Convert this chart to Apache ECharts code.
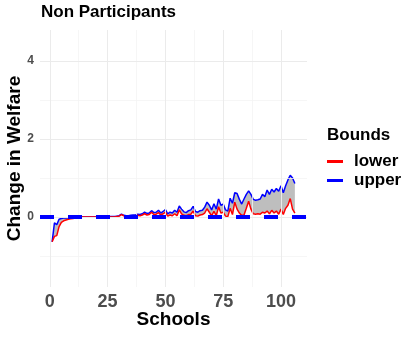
<!DOCTYPE html>
<html>
<head>
<meta charset="utf-8">
<script src="https://cdn.jsdelivr.net/npm/echarts@6/dist/echarts.min.js"></script>
<style>html,body{margin:0;padding:0;background:#fff}#c{width:415px;height:337px}</style>
</head>
<body>
<div id="c"></div>
<script>
const schools = Array.from({length:106}, (_, i) => i + 1);
const upper = [-0.64,-0.15,-0.20,-0.06,-0.04,-0.03,-0.03,-0.02,-0.02,-0.01,
  -0.01,-0.01,0.00,0.00,0.00,0.00,0.00,0.00,0.00,0.00,
  0.00,0.00,0.00,0.01,0.01,0.01,0.01,0.01,0.02,0.03,
  0.07,0.04,0.03,0.03,0.04,0.05,0.05,0.07,0.06,0.08,
  0.12,0.09,0.10,0.16,0.11,0.12,0.17,0.10,0.14,0.19,
  0.08,0.12,0.10,0.17,0.12,0.28,0.20,0.13,0.11,0.16,
  0.18,0.27,0.14,0.12,0.16,0.17,0.25,0.38,0.30,0.18,
  0.34,0.20,0.46,0.30,0.33,0.18,0.15,0.48,0.35,0.62,
  0.60,0.45,0.33,0.46,0.58,0.67,0.58,0.45,0.43,0.44,
  0.46,0.58,0.52,0.69,0.58,0.71,0.64,0.73,0.66,0.80,
  0.62,0.80,0.95,1.07,1.00,0.86];
const lower = [-0.64,-0.50,-0.48,-0.25,-0.14,-0.10,-0.08,-0.06,-0.05,-0.04,
  -0.03,-0.02,-0.01,0.00,0.00,0.00,0.00,0.00,0.00,0.00,
  0.00,0.00,0.00,0.00,0.00,0.00,0.00,0.00,0.01,0.02,
  0.06,0.03,0.02,0.02,0.02,0.03,0.03,0.04,0.03,0.05,
  0.08,0.05,0.06,0.12,0.06,0.07,0.11,0.05,0.08,0.12,
  0.02,0.05,0.03,0.08,0.03,0.18,0.08,0.04,0.03,0.06,
  0.07,0.15,0.03,0.02,0.05,0.06,0.10,0.21,0.12,0.03,
  0.14,0.03,0.26,0.10,0.12,0.02,0.01,0.22,0.06,0.38,
  0.20,0.10,0.04,0.05,0.22,0.40,0.20,0.08,0.07,0.08,
  0.07,0.12,0.10,0.15,0.08,0.17,0.10,0.15,0.07,0.20,
  0.06,0.22,0.30,0.47,0.20,0.10];
const xTicks = [0, 25, 50, 75, 100];
const xMinor = [12.5, 37.5, 62.5, 87.5];
const yTicks = [0, 2, 4];
const yMinor = [-1, 1, 3];
const refLine = 0;

const ff = '"Liberation Sans", Arial, Helvetica, sans-serif';
const chart = echarts.init(document.getElementById('c'), null, {renderer: 'canvas'});

const pair = (arr) => schools.map((s, i) => [s, arr[i]]);
const band = schools.map((s, i) => [s, lower[i], upper[i]]);

const gridMarks = {
  silent: true, symbol: 'none', label: {show: false}, animation: false,
  data: [
    ...xMinor.map(v => ({xAxis: v, lineStyle: {color: '#F4F4F4', width: 0.8, type: 'solid'}})),
    ...yMinor.map(v => ({yAxis: v, lineStyle: {color: '#F4F4F4', width: 0.8, type: 'solid'}})),
    ...xTicks.map(v => ({xAxis: v, lineStyle: {color: '#EBEBEB', width: 1, type: 'solid'}})),
    ...yTicks.map(v => ({yAxis: v, lineStyle: {color: '#EBEBEB', width: 1, type: 'solid'}}))
  ]
};

chart.setOption({
  animation: false,
  backgroundColor: '#ffffff',
  title: [
    {text: 'Non Participants', left: 41, top: 4, padding: 0,
     textStyle: {fontFamily: ff, fontSize: 17, fontWeight: 'bold', color: '#000'}},
    {text: 'Bounds', left: 327, top: 127, padding: 0,
     textStyle: {fontFamily: ff, fontSize: 17, fontWeight: 'bold', color: '#000'}}
  ],
  legend: {
    data: ['lower', 'upper'],
    orient: 'vertical', left: 327, top: 153, padding: 0,
    itemWidth: 16, itemHeight: 3, itemGap: 2, icon: 'rect',
    textStyle: {fontFamily: ff, fontSize: 17, fontWeight: 'bold', color: '#000', padding: [0, 0, 0, 6], lineHeight: 17}
  },
  grid: {left: 40, right: 108, top: 30, bottom: 50, containLabel: false, outerBoundsMode: 'none'},
  xAxis: {
    type: 'value', min: -4.25, max: 111.25,
    name: 'Schools', nameLocation: 'middle', nameGap: 23, nameMoveOverlap: false,
    nameTextStyle: {fontFamily: ff, fontSize: 19, fontWeight: 'bold', color: '#000'},
    axisLine: {show: false}, axisTick: {show: false, customValues: xTicks},
    splitLine: {show: false},
    axisLabel: {customValues: xTicks, margin: 6, fontFamily: ff, fontSize: 18, fontWeight: 'bold', color: '#4D4D4D'}
  },
  yAxis: {
    type: 'value', min: -1.8, max: 4.8,
    name: 'Change in Welfare', nameLocation: 'middle', nameGap: 16, nameMoveOverlap: false,
    nameTextStyle: {fontFamily: ff, fontSize: 19, fontWeight: 'bold', color: '#000'},
    axisLine: {show: false}, axisTick: {show: false, customValues: yTicks},
    splitLine: {show: false},
    axisLabel: {customValues: yTicks, margin: 6, fontFamily: ff, fontSize: 12, fontWeight: 'bold', color: '#4D4D4D'}
  },
  series: [
    {name: 'grid', type: 'line', data: [], markLine: gridMarks, silent: true},
    {name: 'ribbon', type: 'custom', data: band, silent: true,
     encode: {x: 0, y: [1, 2]},
     renderItem: function (params, api) {
       if (params.dataIndex !== 0) return null;
       const top = band.map(d => api.coord([d[0], d[2]]));
       const bot = band.map(d => api.coord([d[0], d[1]])).reverse();
       return {type: 'polygon', shape: {points: top.concat(bot)},
               style: {fill: '#BEBEBE', stroke: null}};
     }},
    {name: 'upper', type: 'line', data: pair(upper), symbol: 'none', color: '#0000FF',
     lineStyle: {color: '#0000FF', width: 1.5}},
    {name: 'lower', type: 'line', data: pair(lower), symbol: 'none', color: '#FF0000',
     lineStyle: {color: '#FF0000', width: 1.5},
     markLine: {silent: true, symbol: 'none', label: {show: false},
       data: [{yAxis: refLine}],
       lineStyle: {color: '#0000FF', width: 4, type: [14, 14]}}}
  ]
});
</script>
</body>
</html>
